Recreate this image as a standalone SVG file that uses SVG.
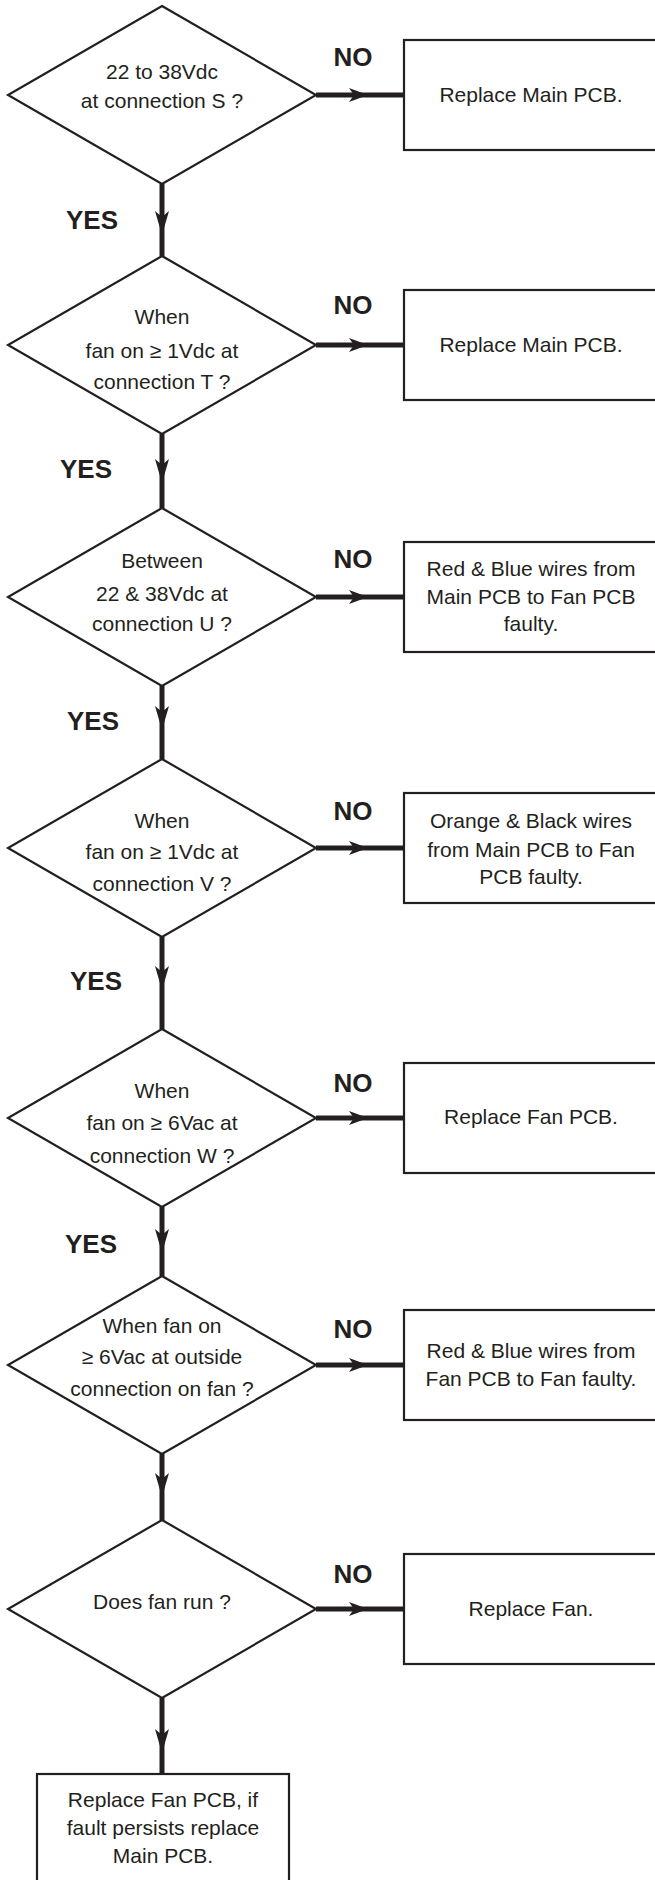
<svg xmlns="http://www.w3.org/2000/svg" width="655" height="1880" viewBox="0 0 655 1880">
<style>
.shape{fill:#fff;stroke:#231f20;stroke-width:2.2}
.conn{fill:none;stroke:#231f20;stroke-width:5}
.t{font-family:"Liberation Sans",Arial,Helvetica,sans-serif;font-size:21px;fill:#231f20;text-anchor:middle}
.lbl{font-family:"Liberation Sans",Arial,Helvetica,sans-serif;font-size:26px;font-weight:bold;fill:#231f20;text-anchor:middle}
</style>
<defs>
<marker id="arrV" markerUnits="userSpaceOnUse" orient="auto" refX="24" refY="7" markerWidth="26" markerHeight="16" overflow="visible">
<path d="M0,0 L24,7 L0,14 L6,7 Z" fill="#231f20"/>
</marker>
<marker id="arrH" markerUnits="userSpaceOnUse" orient="auto" refX="19" refY="7" markerWidth="21" markerHeight="16" overflow="visible">
<path d="M0,0 L19,7 L0,14 L5,7 Z" fill="#231f20"/>
</marker>
</defs>
<rect width="655" height="1880" fill="#fff"/>

<g id="connectors">
<path class="conn" marker-mid="url(#arrH)" d="M316,95 H368 H404"/>
<path class="conn" marker-mid="url(#arrH)" d="M316,345 H368 H404"/>
<path class="conn" marker-mid="url(#arrH)" d="M316,597 H368 H404"/>
<path class="conn" marker-mid="url(#arrH)" d="M316,848 H368 H404"/>
<path class="conn" marker-mid="url(#arrH)" d="M316,1118 H368 H404"/>
<path class="conn" marker-mid="url(#arrH)" d="M316,1365 H368 H404"/>
<path class="conn" marker-mid="url(#arrH)" d="M316,1609 H368 H404"/>
<path class="conn" marker-mid="url(#arrV)" d="M162,184 V235 V256"/>
<path class="conn" marker-mid="url(#arrV)" d="M162,434 V483 V508"/>
<path class="conn" marker-mid="url(#arrV)" d="M162,686 V730 V759"/>
<path class="conn" marker-mid="url(#arrV)" d="M162,937 V990 V1029"/>
<path class="conn" marker-mid="url(#arrV)" d="M162,1207 V1253 V1276"/>
<path class="conn" marker-mid="url(#arrV)" d="M162,1454 V1497 V1520"/>
<path class="conn" marker-mid="url(#arrV)" d="M162,1698 V1753 V1774"/>
<text class="lbl" x="353" y="66">NO</text>
<text class="lbl" x="353" y="314">NO</text>
<text class="lbl" x="353" y="568">NO</text>
<text class="lbl" x="353" y="820">NO</text>
<text class="lbl" x="353" y="1092">NO</text>
<text class="lbl" x="353" y="1338">NO</text>
<text class="lbl" x="353" y="1583">NO</text>
<text class="lbl" x="92" y="229">YES</text>
<text class="lbl" x="86" y="478">YES</text>
<text class="lbl" x="93" y="730">YES</text>
<text class="lbl" x="96" y="990">YES</text>
<text class="lbl" x="91" y="1253">YES</text>
</g>

<g id="d1">
<polygon class="shape" points="162,6 316,95 162,184 8,95"/>
<text class="t" x="162" y="79">22 to 38Vdc</text>
<text class="t" x="162" y="107.5">at connection S ?</text>
</g>
<g id="b1">
<rect class="shape" x="404" y="40" width="256" height="110"/>
<text class="t" x="531" y="102">Replace Main PCB.</text>
</g>

<g id="d2">
<polygon class="shape" points="162,256 316,345 162,434 8,345"/>
<text class="t" x="162" y="324">When</text>
<text class="t" x="162" y="357.5">fan on ≥ 1Vdc at</text>
<text class="t" x="162" y="389">connection T ?</text>
</g>
<g id="b2">
<rect class="shape" x="404" y="290" width="256" height="110"/>
<text class="t" x="531" y="352">Replace Main PCB.</text>
</g>

<g id="d3">
<polygon class="shape" points="162,508 316,597 162,686 8,597"/>
<text class="t" x="162" y="567.5">Between</text>
<text class="t" x="162" y="601">22 &amp; 38Vdc at</text>
<text class="t" x="162" y="631">connection U ?</text>
</g>
<g id="b3">
<rect class="shape" x="404" y="542" width="256" height="110"/>
<text class="t" x="531" y="576">Red &amp; Blue wires from</text>
<text class="t" x="531" y="604">Main PCB to Fan PCB</text>
<text class="t" x="531" y="631">faulty.</text>
</g>

<g id="d4">
<polygon class="shape" points="162,759 316,848 162,937 8,848"/>
<text class="t" x="162" y="828">When</text>
<text class="t" x="162" y="859">fan on ≥ 1Vdc at</text>
<text class="t" x="162" y="891">connection V ?</text>
</g>
<g id="b4">
<rect class="shape" x="404" y="793" width="256" height="110"/>
<text class="t" x="531" y="828">Orange &amp; Black wires</text>
<text class="t" x="531" y="857">from Main PCB to Fan</text>
<text class="t" x="531" y="884">PCB faulty.</text>
</g>

<g id="d5">
<polygon class="shape" points="162,1029 316,1118 162,1207 8,1118"/>
<text class="t" x="162" y="1097.5">When</text>
<text class="t" x="162" y="1130">fan on ≥ 6Vac at</text>
<text class="t" x="162" y="1162.5">connection W ?</text>
</g>
<g id="b5">
<rect class="shape" x="404" y="1063" width="256" height="110"/>
<text class="t" x="531" y="1124">Replace Fan PCB.</text>
</g>

<g id="d6">
<polygon class="shape" points="162,1276 316,1365 162,1454 8,1365"/>
<text class="t" x="162" y="1332.5">When fan on</text>
<text class="t" x="162" y="1364">≥ 6Vac at outside</text>
<text class="t" x="162" y="1396">connection on fan ?</text>
</g>
<g id="b6">
<rect class="shape" x="404" y="1310" width="256" height="110"/>
<text class="t" x="531" y="1357.5">Red &amp; Blue wires from</text>
<text class="t" x="531" y="1386">Fan PCB to Fan faulty.</text>
</g>

<g id="d7">
<polygon class="shape" points="162,1520 316,1609 162,1698 8,1609"/>
<text class="t" x="162" y="1609">Does fan run ?</text>
</g>
<g id="b7">
<rect class="shape" x="404" y="1554" width="256" height="110"/>
<text class="t" x="531" y="1616">Replace Fan.</text>
</g>

<g id="b8">
<rect class="shape" x="37" y="1774" width="252" height="120"/>
<text class="t" x="163" y="1806.5">Replace Fan PCB, if</text>
<text class="t" x="163" y="1834.5">fault persists replace</text>
<text class="t" x="163" y="1862.5">Main PCB.</text>
</g>
</svg>
